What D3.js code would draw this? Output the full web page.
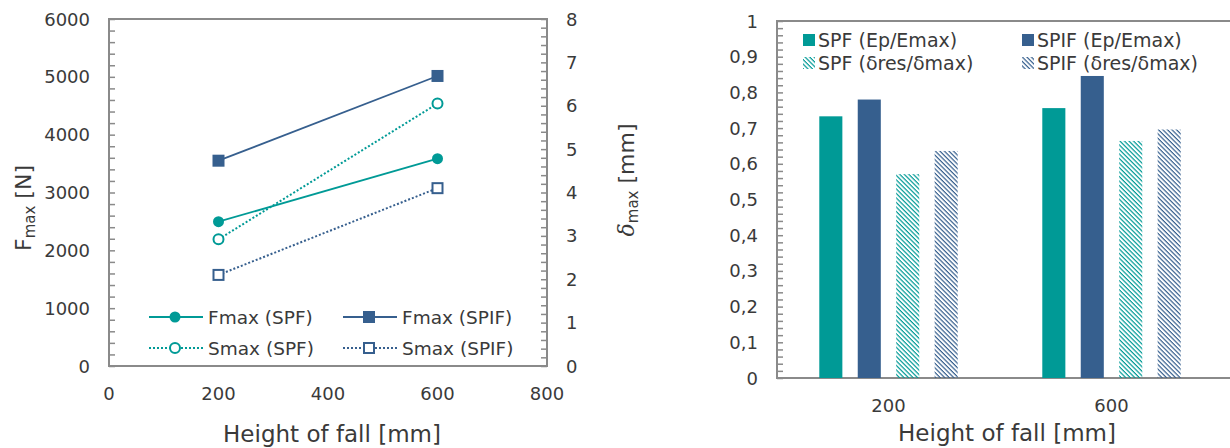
<!DOCTYPE html>
<html lang="en">
<head>
<meta charset="UTF-8">
<title>Height of fall charts</title>
<script src="https://d3js.org/d3.v7.min.js"></script>
<style>
    body { margin: 0; background: #fff; }
    svg { display: block; }
    text { font-family: "DejaVu Sans", sans-serif; fill: #3a3a3a; }
</style>
</head>
<body>
<svg id="chart" width="1230" height="448"></svg>
<script>
// ---- data ----
const heights = [200, 600];
const fmaxSPF = [2495, 3585];
const fmaxSPIF = [3550, 5015];
const smaxSPF = [2.92, 6.05];
const smaxSPIF = [2.1, 4.1];

const barCategories = ["200", "600"];
const barSeries = ["SPF (Ep/Emax)", "SPIF (Ep/Emax)", "SPF (δres/δmax)", "SPIF (δres/δmax)"];
const epSPF = [0.733, 0.756];
const epSPIF = [0.780, 0.846];
const resSPF = [0.571, 0.664];
const resSPIF = [0.636, 0.696];

const teal = "#009a96";
const blue = "#365f8e";
const frameColor = "#8a8a8a";

const svg = d3.select("#chart");

const defs = svg.append("defs");
function hatch(id, color) {
    const p = defs.append("pattern")
        .attr("id", id)
        .attr("patternUnits", "userSpaceOnUse")
        .attr("width", 3.2).attr("height", 3.2)
        .attr("patternTransform", "rotate(-45)");
    p.append("line")
        .attr("x1", 1).attr("y1", 0).attr("x2", 1).attr("y2", 3.2)
        .attr("stroke", color).attr("stroke-width", 1.2);
}
hatch("hatchTeal", teal);
hatch("hatchBlue", blue);

// ================= left chart =================
const L = {left: 109, right: 547, top: 19, bottom: 366};

const x = d3.scaleLinear().domain([0, 800]).range([L.left, L.right]);
const yF = d3.scaleLinear().domain([0, 6000]).range([L.bottom, L.top]);
const yS = d3.scaleLinear().domain([0, 8]).range([L.bottom, L.top]);

const left = svg.append("g");

// inward minor ticks
left.append("g")
    .attr("transform", `translate(${L.left},0)`)
    .call(d3.axisRight(yF).tickValues(d3.range(0, 6001, 200)).tickSize(6).tickFormat(""))
    .call(g => g.select(".domain").remove())
    .call(g => g.selectAll("line").attr("stroke", frameColor).attr("stroke-width", 1.5));
left.append("g")
    .attr("transform", `translate(${L.right},0)`)
    .call(d3.axisLeft(yS).tickValues(d3.range(0, 8.01, 0.2)).tickSize(6).tickFormat(""))
    .call(g => g.select(".domain").remove())
    .call(g => g.selectAll("line").attr("stroke", frameColor).attr("stroke-width", 1.5));

left.append("rect")
    .attr("x", L.left).attr("y", L.top)
    .attr("width", L.right - L.left).attr("height", L.bottom - L.top)
    .attr("fill", "none").attr("stroke", frameColor).attr("stroke-width", 2);

// tick labels
left.append("g").selectAll("text")
    .data(yF.ticks(6))
    .join("text")
    .attr("x", 90).attr("y", d => yF(d) + 6.5)
    .attr("text-anchor", "end").attr("font-size", 18)
    .text(d => d);
left.append("g").selectAll("text")
    .data(yS.ticks(8))
    .join("text")
    .attr("x", 566).attr("y", d => yS(d) + 6.5)
    .attr("font-size", 18)
    .text(d => d);
left.append("g").selectAll("text")
    .data(x.ticks(4))
    .join("text")
    .attr("x", d => x(d)).attr("y", 400)
    .attr("text-anchor", "middle").attr("font-size", 18)
    .text(d => d);

left.append("text")
    .attr("x", (L.left + L.right) / 2 + 4).attr("y", 442)
    .attr("text-anchor", "middle").attr("font-size", 23)
    .text("Height of fall [mm]");

const fTitle = left.append("text")
    .attr("transform", "translate(31,208) rotate(-90)")
    .attr("text-anchor", "middle").attr("font-size", 22);
fTitle.append("tspan").text("F");
fTitle.append("tspan").attr("font-size", 15).attr("dy", 4).text("max");
fTitle.append("tspan").attr("dy", -4).text(" [N]");

const sTitle = left.append("text")
    .attr("transform", "translate(634,180) rotate(-90)")
    .attr("text-anchor", "middle").attr("font-size", 22);
sTitle.append("tspan").attr("font-family", "DejaVu Serif").attr("font-style", "italic").text("δ");
sTitle.append("tspan").attr("font-size", 15).attr("dy", 4).text("max");
sTitle.append("tspan").attr("dy", -4).text(" [mm]");

// series
const lineSeries = [
    {name: "Fmax (SPF)", values: fmaxSPF, y: yF, color: teal, dash: null, shape: "circle", filled: true},
    {name: "Fmax (SPIF)", values: fmaxSPIF, y: yF, color: blue, dash: null, shape: "square", filled: true},
    {name: "Smax (SPF)", values: smaxSPF, y: yS, color: teal, dash: "2,2", shape: "circle", filled: false},
    {name: "Smax (SPIF)", values: smaxSPIF, y: yS, color: blue, dash: "2,2", shape: "square", filled: false}
];

function marker(g, s, cx, cy) {
    if (s.shape === "circle") {
        g.append("circle")
            .attr("cx", cx).attr("cy", cy)
            .attr("r", s.filled ? 5.5 : 5)
            .attr("fill", s.filled ? s.color : "#fff")
            .attr("stroke", s.color).attr("stroke-width", s.filled ? 0 : 2);
    } else {
        const half = s.filled ? 6 : 5;
        g.append("rect")
            .attr("x", cx - half).attr("y", cy - half)
            .attr("width", half * 2).attr("height", half * 2)
            .attr("fill", s.filled ? s.color : "#fff")
            .attr("stroke", s.color).attr("stroke-width", s.filled ? 0 : 2);
    }
}

lineSeries.forEach(s => {
    const g = left.append("g");
    const pts = heights.map((h, i) => [x(h), s.y(s.values[i])]);
    g.append("path")
        .attr("d", d3.line()(pts))
        .attr("fill", "none").attr("stroke", s.color)
        .attr("stroke-width", s.dash ? 2 : 1.8)
        .attr("stroke-dasharray", s.dash);
    pts.forEach(p => marker(g, s, p[0], p[1]));
});

// legend
const legPos = [[149, 317], [343, 317], [149, 348], [343, 348]];
lineSeries.forEach((s, i) => {
    const [lx, ly] = legPos[i];
    const g = left.append("g");
    g.append("line")
        .attr("x1", lx).attr("x2", lx + 54).attr("y1", ly).attr("y2", ly)
        .attr("stroke", s.color).attr("stroke-width", s.dash ? 2 : 1.8)
        .attr("stroke-dasharray", s.dash);
    marker(g, s, lx + 26, ly);
    g.append("text")
        .attr("x", lx + 59).attr("y", ly + 7)
        .attr("font-size", 18.5)
        .text(s.name);
});

// ================= right chart =================
const R = {left: 777, right: 1223, top: 21, bottom: 378};

const x0 = d3.scaleBand().domain(barCategories).range([R.left, R.right]).padding(0);
const x1 = d3.scaleBand().domain(barSeries).range([0, x0.bandwidth()])
    .paddingInner(0.4).paddingOuter(1.1);
const yB = d3.scaleLinear().domain([0, 1]).range([R.bottom, R.top]);

const right = svg.append("g");

right.append("g")
    .attr("transform", `translate(${R.left},0)`)
    .call(d3.axisRight(yB).tickValues(d3.range(0, 1.001, 0.02)).tickSize(6).tickFormat(""))
    .call(g => g.select(".domain").remove())
    .call(g => g.selectAll("line").attr("stroke", frameColor).attr("stroke-width", 1.5));

right.append("path")
    .attr("d", `M1234,${R.top}H${R.left}V${R.bottom}H1234`)
    .attr("fill", "none").attr("stroke", frameColor).attr("stroke-width", 2);

const fmtComma = d => d3.format(".1~f")(d).replace(".", ",");
right.append("g").selectAll("text")
    .data(yB.ticks(10))
    .join("text")
    .attr("x", 758).attr("y", d => yB(d) + 6.5)
    .attr("text-anchor", "end").attr("font-size", 18)
    .text(fmtComma);

right.append("g").selectAll("text")
    .data(barCategories)
    .join("text")
    .attr("x", d => x0(d) + x0.bandwidth() / 2).attr("y", 412)
    .attr("text-anchor", "middle").attr("font-size", 18)
    .text(d => d);

right.append("text")
    .attr("x", 1007).attr("y", 441)
    .attr("text-anchor", "middle").attr("font-size", 23)
    .text("Height of fall [mm]");

const barValues = [epSPF, epSPIF, resSPF, resSPIF];
const barFill = [teal, blue, "url(#hatchTeal)", "url(#hatchBlue)"];

barCategories.forEach((c, ci) => {
    barSeries.forEach((s, si) => {
        right.append("rect")
            .attr("x", x0(c) + x1(s))
            .attr("y", yB(barValues[si][ci]))
            .attr("width", x1.bandwidth())
            .attr("height", R.bottom - yB(barValues[si][ci]))
            .attr("fill", barFill[si]);
    });
});

const barLeg = [[803, 40], [1022, 40], [803, 63], [1022, 63]];
barSeries.forEach((s, i) => {
    const [lx, ly] = barLeg[i];
    right.append("rect")
        .attr("x", lx).attr("y", ly - 6)
        .attr("width", 12).attr("height", 12)
        .attr("fill", barFill[i]);
    right.append("text")
        .attr("x", lx + 15).attr("y", ly + 7)
        .attr("font-size", 19)
        .text(s);
});
</script>
</body>
</html>
